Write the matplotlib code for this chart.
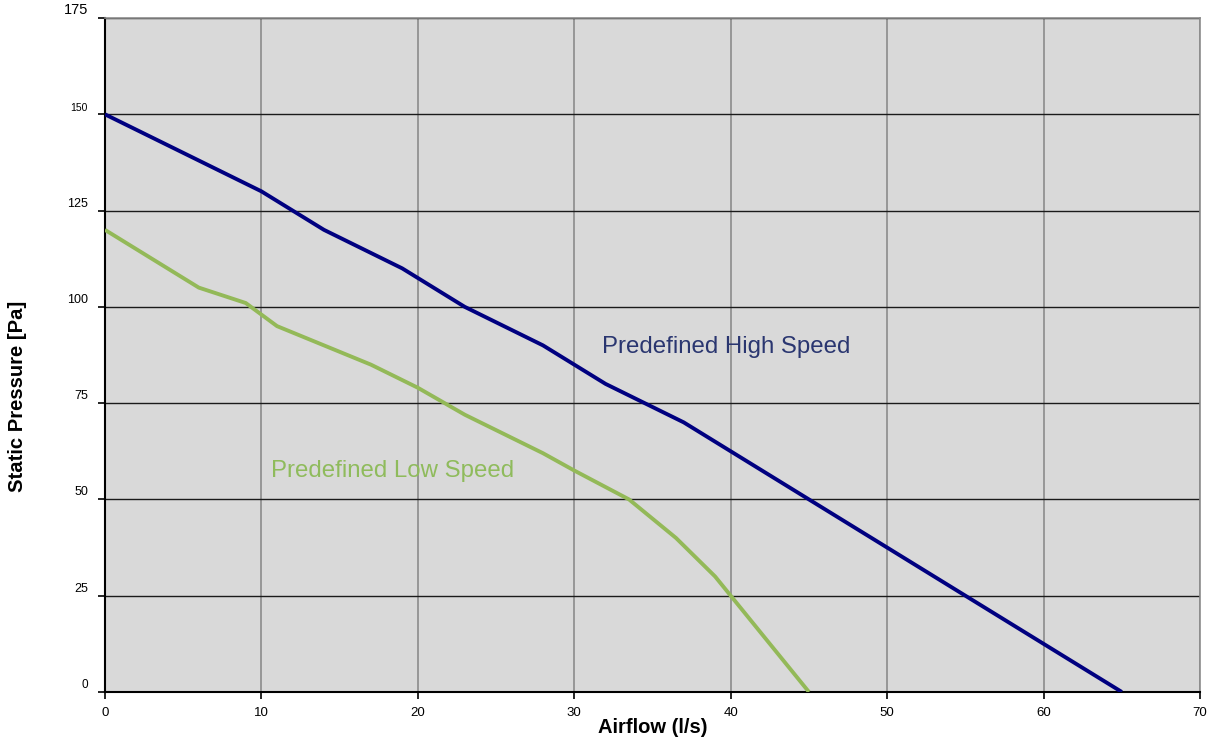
import matplotlib
matplotlib.use("Agg")
import matplotlib.pyplot as plt
from matplotlib.transforms import offset_copy

plt.rcParams['font.family'] = ['Liberation Sans', 'DejaVu Sans']

high_x = [0, 5, 10, 14, 19, 23, 28, 32, 37, 45, 65]
high_y = [150, 140, 130, 120, 110, 100, 90, 80, 70, 50, 0]
low_x = [0, 6, 9, 11, 14, 17, 20, 23, 28, 30, 33.5, 36.5, 39, 41, 45]
low_y = [120, 105, 101, 95, 90, 85, 79, 72, 62, 57.5, 50, 40, 30, 20, 0]

x_ticks = [0, 10, 20, 30, 40, 50, 60, 70]
y_ticks = [0, 25, 50, 75, 100, 125, 150, 175]
y_tick_sizes = [8.5, 9, 9, 9, 9, 9, 7.5, 10.5]

high_label = "Predefined High Speed"
low_label = "Predefined Low Speed"
high_color = "#000080"
low_color = "#93b958"

fig = plt.figure(figsize=(12.09, 7.42), dpi=100)
ax = fig.add_axes([0.0868, 0.0674, 0.9058, 0.9083])
ax.set_facecolor("#d9d9d9")
ax.set_xlim(0, 70)
ax.set_ylim(0, 175)

for xv in x_ticks[1:]:
    ax.axvline(xv, color="#8c8c8c", lw=1.2, zorder=1)
for yv in y_ticks[1:]:
    ax.axhline(yv, color="#1a1a1a", lw=1.0, zorder=1)

ax.plot(high_x, high_y, color=high_color, lw=2.8, zorder=3, solid_capstyle='butt')
ax.plot(low_x, low_y, color=low_color, lw=2.8, zorder=3, solid_capstyle='butt')

ax.text(31.8, 89.6, high_label, color="#2a3670", fontsize=17.3, va='center', ha='left', zorder=4)
ax.text(10.6, 57.4, low_label, color="#8fbb5c", fontsize=17.3, va='center', ha='left', zorder=4)

for side in ['top', 'right']:
    ax.spines[side].set_color("#8c8c8c")
    ax.spines[side].set_linewidth(1.2)
for side in ['left', 'bottom']:
    ax.spines[side].set_color("#000000")
    ax.spines[side].set_linewidth(1.5)

ax.set_xticks(x_ticks)
ax.set_xticklabels([str(v) for v in x_ticks], fontsize=9.5)
ax.tick_params(axis='x', direction='out', length=5, width=1.2, pad=6, colors='black')
ax.set_yticks(y_ticks)
ax.set_yticklabels([])
ax.tick_params(axis='y', direction='out', length=5, width=1.2, colors='black')

tr = offset_copy(ax.get_yaxis_transform(), fig=fig, x=-17, y=1, units='dots')
for yv, fs in zip(y_ticks, y_tick_sizes):
    ax.text(0, yv, str(yv), transform=tr, ha='right', va='bottom', fontsize=fs, clip_on=False)

ax.set_xlabel("Airflow (l/s)", fontsize=14.5, fontweight='bold', va='center')
ax.xaxis.set_label_coords(0.5, -0.053)
ax.set_ylabel("Static Pressure [Pa]", fontsize=14.6, fontweight='bold', va='center')
ax.yaxis.set_label_coords(-0.0795, 0.439)

fig.savefig("out.png", dpi=100)
